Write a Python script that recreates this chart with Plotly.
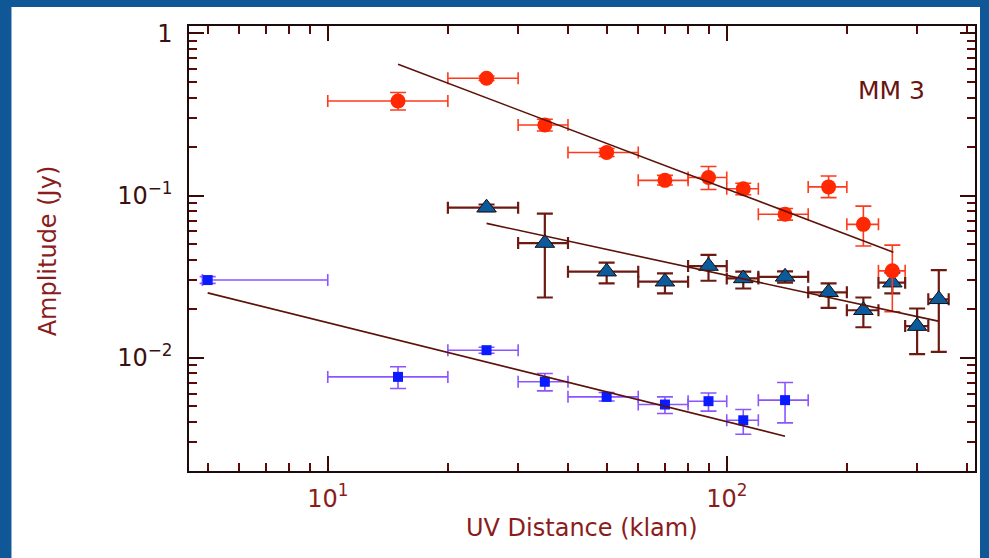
import plotly.graph_objects as go

# ---------------- data ----------------
red_x = [15, 25, 35, 50, 70, 90, 110, 140, 180, 220, 260]
red_xlo = [10, 20, 30, 40, 60, 80, 100, 120, 160, 200, 240]
red_xhi = [20, 30, 40, 60, 80, 100, 120, 160, 200, 240, 280]
red_y = [0.383, 0.529, 0.272, 0.184, 0.124, 0.129, 0.110, 0.0766, 0.113, 0.0664, 0.0343]
red_ylo = [0.337, 0.512, 0.250, 0.174, 0.116, 0.109, 0.101, 0.0705, 0.097, 0.0488, 0.0192]
red_yhi = [0.432, 0.546, 0.295, 0.195, 0.133, 0.151, 0.119, 0.0832, 0.132, 0.086, 0.0494]

tri_x = [25, 35, 50, 70, 90, 110, 140, 180, 220, 260, 300, 340]
tri_xlo = [20, 30, 40, 60, 80, 100, 120, 160, 200, 240, 280, 320]
tri_xhi = [30, 40, 60, 80, 100, 120, 160, 200, 240, 280, 320, 360]
tri_y = [0.0841, 0.0509, 0.0339, 0.0294, 0.0367, 0.0308, 0.0315, 0.0253, 0.0196, 0.0290, 0.01565, 0.0229]
tri_ylo = [0.080, 0.0235, 0.0287, 0.0249, 0.0298, 0.0267, 0.0290, 0.0203, 0.0154, 0.0249, 0.0105, 0.01086]
tri_yhi = [0.088, 0.0772, 0.0385, 0.0331, 0.0430, 0.0339, 0.0340, 0.0287, 0.0235, 0.0334, 0.0201, 0.0347]

sq_x = [5, 15, 25, 35, 50, 70, 90, 110, 140]
sq_xlo = [4.85, 10, 20, 30, 40, 60, 80, 100, 120]
sq_xhi = [10, 20, 30, 40, 60, 80, 100, 120, 160]
sq_y = [0.0301, 0.00761, 0.01112, 0.0071, 0.00573, 0.00514, 0.00539, 0.00411, 0.00547]
sq_ylo = [0.0287, 0.00645, 0.01065, 0.00624, 0.00540, 0.00452, 0.00468, 0.00337, 0.00396]
sq_yhi = [0.0316, 0.00878, 0.0116, 0.00798, 0.00610, 0.00573, 0.00605, 0.00479, 0.00703]

fit_red_x = [15, 261.6]
fit_red_y = [0.645, 0.0446]
fit_tri_x = [25, 338.8]
fit_tri_y = [0.0673, 0.0168]
fit_sq_x = [5, 140]
fit_sq_y = [0.0251, 0.00328]

x_tickvals = [10, 100]
x_ticktext = ["10<sup>1</sup>", "10<sup>2</sup>"]
y_tickvals = [0.01, 0.1, 1]
y_ticktext = ["10<sup>\u22122</sup>", "10<sup>\u22121</sup>", "1"]
x_minor = [5, 6, 7, 8, 9, 20, 30, 40, 50, 60, 70, 80, 90, 200, 300, 400]
y_minor = [0.003, 0.004, 0.005, 0.006, 0.007, 0.008, 0.009,
           0.02, 0.03, 0.04, 0.05, 0.06, 0.07, 0.08, 0.09,
           0.2, 0.3, 0.4, 0.5, 0.6, 0.7, 0.8, 0.9]

label = "MM 3"
x_title = "UV Distance (klam)"
y_title = "Amplitude (Jy)"


def errs(v, lo, hi):
    return [h - a for a, h in zip(v, hi)], [a - l for a, l in zip(v, lo)]


FONT = "DejaVu Sans"
fig = go.Figure()

# blue squares
ep, em = errs(sq_x, sq_xlo, sq_xhi)
yp, ym = errs(sq_y, sq_ylo, sq_yhi)
fig.add_trace(go.Scatter(
    x=sq_x, y=sq_y, mode="markers",
    marker=dict(symbol="square", size=10, color="#0a1cff", line=dict(width=0)),
    error_x=dict(type="data", array=ep, arrayminus=em, color="#8a55ff", thickness=1.6, width=6),
    error_y=dict(type="data", array=yp, arrayminus=ym, color="#8a55ff", thickness=1.6, width=8),
    showlegend=False))

# triangles
ep, em = errs(tri_x, tri_xlo, tri_xhi)
yp, ym = errs(tri_y, tri_ylo, tri_yhi)
fig.add_trace(go.Scatter(
    x=tri_x, y=tri_y, mode="markers",
    marker=dict(symbol="triangle-up", size=17, color="#0b5a9c", line=dict(width=1, color="#111111")),
    error_x=dict(type="data", array=ep, arrayminus=em, color="#6e1a12", thickness=2.2, width=6),
    error_y=dict(type="data", array=yp, arrayminus=ym, color="#6e1a12", thickness=2.2, width=8),
    showlegend=False))

# red circles
ep, em = errs(red_x, red_xlo, red_xhi)
yp, ym = errs(red_y, red_ylo, red_yhi)
fig.add_trace(go.Scatter(
    x=red_x, y=red_y, mode="markers",
    marker=dict(symbol="circle", size=15, color="#ff2800", line=dict(width=0)),
    error_x=dict(type="data", array=ep, arrayminus=em, color="#ff3a1c", thickness=1.6, width=6),
    error_y=dict(type="data", array=yp, arrayminus=ym, color="#ff3a1c", thickness=1.6, width=8),
    showlegend=False))

# fit lines
for fx_, fy_ in [(fit_red_x, fit_red_y), (fit_tri_x, fit_tri_y), (fit_sq_x, fit_sq_y)]:
    fig.add_trace(go.Scatter(x=fx_, y=fy_, mode="lines",
                             line=dict(color="#5c1208", width=1.6), showlegend=False))

axis_common = dict(
    showgrid=False, zeroline=False, showline=True, linecolor="#1e0a0a", linewidth=1.5,
    mirror="allticks", ticks="inside", ticklen=15, tickwidth=1.6, tickcolor="#3a0a06",
)

fig.update_xaxes(
    type="log", range=[0.6522, 2.6222], tickmode="array",
    tickvals=x_tickvals, ticktext=x_ticktext,
    tickfont=dict(family=FONT, size=24, color="#8b1c1c"),
    ticklabelstandoff=5,
    minor=dict(tickmode="array", tickvals=x_minor, ticks="inside", ticklen=8,
               tickwidth=1.6, tickcolor="#5a0a06"),
    **axis_common)
fig.update_yaxes(
    type="log", range=[-2.699, 0.0453], tickmode="array",
    tickvals=y_tickvals, ticktext=y_ticktext,
    tickfont=dict(family=FONT, size=24, color="#3a1010"),
    ticklabelstandoff=10,
    minor=dict(tickmode="array", tickvals=y_minor, ticks="inside", ticklen=8,
               tickwidth=1.6, tickcolor="#5a0a06"),
    **axis_common)

# white slide panel behind the chart
L, R, T, B = 189, 12, 26, 87
W, H = 989, 558
pw, ph = W - L - R, H - T - B


def fx(px):
    return (px - L) / pw


def fy(py):
    return (H - B - py) / ph


fig.add_shape(type="rect", xref="paper", yref="paper",
              x0=fx(11), x1=fx(982), y0=fy(560), y1=fy(7),
              fillcolor="white", line=dict(width=0), layer="below")

fig.add_annotation(text=label, xref="paper", yref="paper", x=fx(893), y=fy(90),
                   showarrow=False, xanchor="center", yanchor="middle",
                   font=dict(family=FONT, size=25, color="#6a1410"))
fig.add_annotation(text=x_title, xref="paper", yref="paper", x=fx(583), y=fy(528),
                   showarrow=False, xanchor="center", yanchor="middle",
                   font=dict(family=FONT, size=24, color="#8b1c1c"))
fig.add_annotation(text=y_title, xref="paper", yref="paper", x=fx(48), y=fy(251),
                   showarrow=False, xanchor="center", yanchor="middle", textangle=-90,
                   font=dict(family=FONT, size=24, color="#8b1c1c"))

fig.update_layout(
    width=W, height=H,
    margin=dict(l=L, r=R, t=T, b=B, pad=0),
    paper_bgcolor="#0f5796", plot_bgcolor="white",
    showlegend=False,
)

fig.write_html(
    "out.html",
    config={"displayModeBar": False},
    post_script="document.body.style.margin='0';document.body.style.overflow='hidden';",
)
